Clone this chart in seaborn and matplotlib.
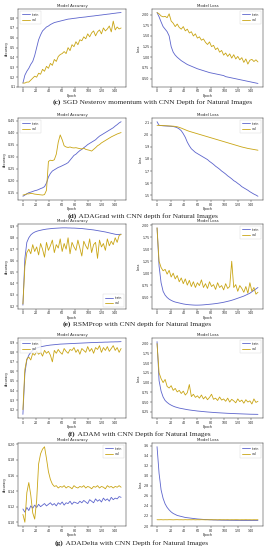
import pandas as pd
import matplotlib.pyplot as plt
import seaborn as sns

# epochs sampled every 3 epochs
epochs = list(range(0, 151, 3))

# (c) SGD Nesterov momentum
c_acc_train = [0.14, 0.22, 0.26, 0.29, 0.33, 0.36, 0.42, 0.50, 0.58, 0.63, 0.67, 0.69, 0.71, 0.72, 0.735, 0.745, 0.755,
               0.76, 0.765, 0.77, 0.775, 0.78, 0.785, 0.79, 0.792, 0.795, 0.798, 0.80, 0.803, 0.806, 0.808, 0.81, 0.812,
               0.815, 0.818, 0.82, 0.822, 0.825, 0.827, 0.83, 0.832, 0.835, 0.837, 0.84, 0.842, 0.845, 0.848, 0.85,
               0.853, 0.855, 0.857]
c_acc_val = [0.14, 0.14, 0.15, 0.15, 0.17, 0.19, 0.21, 0.20, 0.24, 0.23, 0.28, 0.26, 0.31, 0.29, 0.34, 0.32, 0.38, 0.36,
             0.41, 0.43, 0.44, 0.46, 0.44, 0.50, 0.47, 0.53, 0.51, 0.56, 0.53, 0.58, 0.57, 0.61, 0.59, 0.64, 0.61, 0.65,
             0.67, 0.62, 0.66, 0.68, 0.64, 0.70, 0.67, 0.69, 0.72, 0.66, 0.77, 0.68, 0.71, 0.69, 0.70]
c_loss_train = [2.05, 1.95, 1.83, 1.72, 1.66, 1.60, 1.50, 1.25, 1.12, 1.05, 1.00, 0.96, 0.92, 0.89, 0.86, 0.83, 0.81,
                0.79, 0.77, 0.75, 0.73, 0.715, 0.70, 0.685, 0.67, 0.655, 0.64, 0.63, 0.62, 0.61, 0.60, 0.59, 0.58,
                0.57, 0.545, 0.535, 0.525, 0.515, 0.505, 0.495, 0.485, 0.475, 0.465, 0.455, 0.445, 0.435, 0.425,
                0.415, 0.405, 0.395, 0.385]
c_loss_val = [2.05, 2.02, 1.97, 1.95, 1.96, 1.93, 2.02, 1.85, 1.80, 1.72, 1.78, 1.70, 1.66, 1.72, 1.62, 1.66, 1.57,
              1.60, 1.50, 1.55, 1.45, 1.48, 1.40, 1.43, 1.35, 1.30, 1.36, 1.25, 1.28, 1.18, 1.22, 1.12, 1.16, 1.05,
              1.10, 1.02, 1.08, 0.98, 1.06, 0.96, 1.02, 0.94, 0.99, 0.88, 0.96, 0.84, 0.93, 0.95, 0.90, 0.94, 0.89]

# (d) ADAGrad
d_acc_train = [0.135, 0.14, 0.145, 0.15, 0.152, 0.155, 0.158, 0.16, 0.163, 0.167, 0.17, 0.175, 0.19, 0.215, 0.23,
               0.24, 0.245, 0.25, 0.255, 0.258, 0.262, 0.266, 0.27, 0.275, 0.285, 0.295, 0.305, 0.31, 0.318, 0.325,
               0.33, 0.337, 0.343, 0.35, 0.355, 0.36, 0.365, 0.37, 0.378, 0.385, 0.39, 0.395, 0.40, 0.405, 0.41,
               0.415, 0.42, 0.427, 0.433, 0.44, 0.445]
d_acc_val = [0.14, 0.142, 0.145, 0.145, 0.147, 0.146, 0.144, 0.143, 0.142, 0.141, 0.14, 0.142, 0.16, 0.28, 0.285,
             0.283, 0.287, 0.31, 0.36, 0.39, 0.37, 0.345, 0.34, 0.338, 0.34, 0.337, 0.336, 0.337, 0.335, 0.333,
             0.332, 0.335, 0.33, 0.328, 0.326, 0.323, 0.33, 0.337, 0.345, 0.35, 0.357, 0.362, 0.367, 0.372, 0.377,
             0.382, 0.386, 0.39, 0.394, 0.397, 0.40]
d_loss_train = [2.11, 2.08, 2.078, 2.076, 2.075, 2.074, 2.073, 2.072, 2.07, 2.066, 2.06, 2.05, 2.035, 2.01, 1.98,
                1.94, 1.91, 1.885, 1.87, 1.855, 1.845, 1.835, 1.825, 1.815, 1.805, 1.795, 1.78, 1.768, 1.755, 1.74,
                1.728, 1.715, 1.70, 1.688, 1.675, 1.66, 1.648, 1.635, 1.62, 1.61, 1.597, 1.585, 1.57, 1.56, 1.55,
                1.54, 1.528, 1.518, 1.508, 1.50, 1.49]
d_loss_val = [2.08, 2.08, 2.079, 2.078, 2.077, 2.076, 2.075, 2.074, 2.073, 2.071, 2.068, 2.063, 2.057, 2.05, 2.043,
              2.036, 2.03, 2.025, 2.02, 2.015, 2.01, 2.005, 2.0, 1.995, 1.99, 1.985, 1.98, 1.975, 1.97, 1.965, 1.96,
              1.955, 1.95, 1.945, 1.94, 1.935, 1.93, 1.925, 1.92, 1.915, 1.91, 1.905, 1.90, 1.896, 1.892, 1.888,
              1.885, 1.882, 1.879, 1.876, 1.873]

# (e) RSMProp
e_acc_train = [0.21, 0.62, 0.76, 0.80, 0.825, 0.84, 0.85, 0.857, 0.862, 0.866, 0.87, 0.873, 0.876, 0.878, 0.88,
               0.882, 0.883, 0.884, 0.885, 0.886, 0.887, 0.887, 0.887, 0.886, 0.886, 0.885, 0.885, 0.884, 0.883,
               0.882, 0.881, 0.879, 0.877, 0.875, 0.873, 0.871, 0.869, 0.866, 0.863, 0.86, 0.857, 0.854, 0.851,
               0.847, 0.843, 0.839, 0.835, 0.831, 0.828, 0.829, 0.832]
e_acc_val = [0.22, 0.55, 0.67, 0.70, 0.66, 0.74, 0.68, 0.72, 0.65, 0.75, 0.70, 0.63, 0.76, 0.69, 0.73, 0.78, 0.67,
             0.74, 0.71, 0.79, 0.68, 0.75, 0.70, 0.80, 0.66, 0.76, 0.72, 0.69, 0.78, 0.71, 0.64, 0.77, 0.73, 0.70,
             0.79, 0.67, 0.74, 0.76, 0.62, 0.78, 0.72, 0.75, 0.69, 0.79, 0.73, 0.77, 0.74, 0.80, 0.76, 0.82, 0.83]
e_loss_train = [1.95, 1.15, 0.80, 0.62, 0.54, 0.49, 0.455, 0.43, 0.41, 0.395, 0.385, 0.375, 0.365, 0.355, 0.348,
                0.342, 0.338, 0.335, 0.332, 0.33, 0.33, 0.331, 0.333, 0.336, 0.34, 0.344, 0.348, 0.352, 0.357,
                0.362, 0.368, 0.375, 0.382, 0.39, 0.40, 0.41, 0.42, 0.432, 0.445, 0.46, 0.475, 0.49, 0.505, 0.52,
                0.54, 0.56, 0.58, 0.61, 0.64, 0.67, 0.70]
e_loss_val = [1.95, 1.25, 1.12, 1.05, 1.08, 0.98, 1.06, 0.92, 1.00, 0.88, 0.95, 0.82, 0.90, 0.78, 0.88, 0.75, 0.85,
              0.72, 0.82, 0.70, 0.80, 0.74, 0.86, 0.70, 0.78, 0.68, 0.82, 0.72, 0.76, 0.66, 0.80, 0.70, 0.74, 0.65,
              0.78, 0.68, 0.72, 1.25, 0.70, 0.76, 0.62, 0.74, 0.68, 0.60, 0.72, 0.58, 0.80, 0.62, 0.70, 0.56, 0.60]

# (f) ADAM
f_acc_train = [0.15, 0.58, 0.72, 0.77, 0.80, 0.82, 0.835, 0.845, 0.852, 0.858, 0.862, 0.866, 0.87, 0.873, 0.876,
               0.878, 0.88, 0.882, 0.884, 0.886, 0.887, 0.888, 0.889, 0.89, 0.891, 0.892, 0.893, 0.894, 0.895, 0.896,
               0.897, 0.898, 0.899, 0.90, 0.901, 0.902, 0.902, 0.903, 0.904, 0.905, 0.905, 0.906, 0.907, 0.907,
               0.908, 0.909, 0.909, 0.91, 0.91, 0.911, 0.912]
f_acc_val = [0.20, 0.62, 0.73, 0.75, 0.72, 0.79, 0.77, 0.81, 0.78, 0.80, 0.76, 0.82, 0.79, 0.81, 0.77, 0.70, 0.82,
             0.79, 0.83, 0.80, 0.78, 0.84, 0.81, 0.79, 0.83, 0.82, 0.85, 0.80, 0.83, 0.78, 0.84, 0.82, 0.80, 0.86,
             0.81, 0.84, 0.79, 0.85, 0.83, 0.87, 0.80, 0.85, 0.82, 0.86, 0.81, 0.84, 0.87, 0.82, 0.85, 0.80, 0.84]
f_loss_train = [2.05, 1.05, 0.78, 0.63, 0.54, 0.49, 0.45, 0.42, 0.395, 0.375, 0.36, 0.345, 0.335, 0.325, 0.315,
                0.305, 0.297, 0.29, 0.283, 0.277, 0.27, 0.265, 0.26, 0.255, 0.25, 0.245, 0.241, 0.237, 0.233, 0.229,
                0.226, 0.223, 0.22, 0.217, 0.214, 0.211, 0.209, 0.206, 0.204, 0.202, 0.20, 0.198, 0.196, 0.194,
                0.192, 0.19, 0.188, 0.187, 0.186, 0.185, 0.184]
f_loss_val = [2.00, 1.25, 1.10, 1.00, 1.08, 0.90, 0.86, 0.92, 0.80, 0.85, 0.76, 0.80, 0.72, 0.78, 0.68, 0.74, 0.95,
              0.64, 0.70, 0.62, 0.66, 0.60, 0.68, 0.58, 0.64, 0.56, 0.62, 0.70, 0.57, 0.60, 0.54, 0.63, 0.55, 0.58,
              0.52, 0.60, 0.50, 0.57, 0.53, 0.48, 0.58, 0.51, 0.55, 0.47, 0.56, 0.50, 0.53, 0.45, 0.58, 0.49, 0.52]

# (g) ADADelta
g_acc_train = [0.117, 0.113, 0.119, 0.115, 0.121, 0.118, 0.122, 0.119, 0.123, 0.120, 0.122, 0.124, 0.121, 0.123,
               0.125, 0.122, 0.124, 0.121, 0.125, 0.123, 0.126, 0.122, 0.125, 0.124, 0.127, 0.123, 0.126, 0.125,
               0.124, 0.127, 0.125, 0.128, 0.126, 0.124, 0.129, 0.127, 0.125, 0.130, 0.127, 0.129, 0.126, 0.131,
               0.128, 0.130, 0.127, 0.132, 0.129, 0.131, 0.130, 0.133, 0.132]
g_acc_val = [0.11, 0.10, 0.138, 0.151, 0.135, 0.112, 0.104, 0.128, 0.175, 0.188, 0.194, 0.197, 0.182, 0.165, 0.155,
             0.149, 0.146, 0.147, 0.144, 0.146, 0.145, 0.147, 0.144, 0.146, 0.145, 0.143, 0.147, 0.145, 0.144,
             0.146, 0.145, 0.147, 0.144, 0.146, 0.145, 0.143, 0.146, 0.145, 0.147, 0.144, 0.146, 0.145, 0.143,
             0.147, 0.145, 0.146, 0.144, 0.146, 0.145, 0.147, 0.145]
g_loss_train = [3.58, 3.05, 2.72, 2.55, 2.44, 2.37, 2.32, 2.28, 2.25, 2.23, 2.21, 2.20, 2.19, 2.18, 2.17, 2.165,
                2.16, 2.155, 2.15, 2.145, 2.14, 2.137, 2.134, 2.131, 2.128, 2.126, 2.124, 2.122, 2.12, 2.119, 2.118,
                2.117, 2.116, 2.115, 2.115, 2.114, 2.114, 2.113, 2.113, 2.112, 2.112, 2.112, 2.111, 2.111, 2.111,
                2.11, 2.11, 2.11, 2.11, 2.11, 2.11]
g_loss_val = [2.125, 2.124, 2.126, 2.123, 2.125, 2.124, 2.126, 2.125, 2.123, 2.125, 2.126, 2.124, 2.125, 2.123,
              2.126, 2.124, 2.125, 2.124, 2.126, 2.123, 2.125, 2.124, 2.126, 2.125, 2.123, 2.125, 2.124, 2.126,
              2.124, 2.125, 2.123, 2.126, 2.124, 2.125, 2.124, 2.126, 2.123, 2.125, 2.124, 2.126, 2.125, 2.123,
              2.125, 2.124, 2.126, 2.124, 2.125, 2.123, 2.125, 2.124, 2.125]

# y ticks for each panel
c_acc_ticks = [0.1, 0.2, 0.3, 0.4, 0.5, 0.6, 0.7, 0.8]
c_loss_ticks = [0.50, 0.75, 1.00, 1.25, 1.50, 1.75, 2.00]
d_acc_ticks = [0.15, 0.20, 0.25, 0.30, 0.35, 0.40, 0.45]
d_loss_ticks = [1.5, 1.6, 1.7, 1.8, 1.9, 2.0, 2.1]
e_acc_ticks = [0.2, 0.3, 0.4, 0.5, 0.6, 0.7, 0.8, 0.9]
e_loss_ticks = [0.50, 0.75, 1.00, 1.25, 1.50, 1.75, 2.00]
f_acc_ticks = [0.2, 0.3, 0.4, 0.5, 0.6, 0.7, 0.8, 0.9]
f_loss_ticks = [0.25, 0.50, 0.75, 1.00, 1.25, 1.50, 1.75, 2.00]
g_acc_ticks = [0.10, 0.12, 0.14, 0.16, 0.18, 0.20]
g_loss_ticks = [2.0, 2.2, 2.4, 2.6, 2.8, 3.0, 3.2, 3.4, 3.6]
x_ticks = [0, 20, 40, 60, 80, 100, 120, 140]

captions = [("(c)", "SGD Nesterov momentum with CNN Depth for Natural Images"),
            ("(d)", "ADAGrad with CNN depth for Natural Images"),
            ("(e)", "RSMProp with CNN depth for Natural Images"),
            ("(f)", "ADAM with CNN Depth for Natural Images"),
            ("(g)", "ADADelta with CNN Depth for Natural Images")]

# rows: (acc train, acc val, acc ticks, acc legend loc, loss train, loss val, loss ticks, loss legend loc)
rows = [
    (c_acc_train, c_acc_val, c_acc_ticks, "upper left", c_loss_train, c_loss_val, c_loss_ticks, "upper right"),
    (d_acc_train, d_acc_val, d_acc_ticks, "upper left", d_loss_train, d_loss_val, d_loss_ticks, "upper right"),
    (e_acc_train, e_acc_val, e_acc_ticks, "lower right", e_loss_train, e_loss_val, e_loss_ticks, "upper right"),
    (f_acc_train, f_acc_val, f_acc_ticks, "upper left", f_loss_train, f_loss_val, f_loss_ticks, "upper right"),
    (g_acc_train, g_acc_val, g_acc_ticks, "upper right", g_loss_train, g_loss_val, g_loss_ticks, "upper right"),
]

# pixel layout (top, bottom of axes; caption y; caption start x)
row_box = [(9, 87, 102, 53), (118, 200, 216, 68), (224, 309, 324, 63), (338, 418, 434, 68), (443, 526, 543, 55)]

sns.set_style("ticks")
plt.rcParams["font.family"] = ["DejaVu Sans"]
palette = {"train": "#5c64cc", "val": "#c9a514"}

W, H = 271, 550
fig = plt.figure(figsize=(W / 100, H / 100), dpi=100)


def draw(ax, train, val, ticks, loc, title, ylabel):
    df = pd.DataFrame({"epoch": epochs * 2,
                       "value": train + val,
                       "set": ["train"] * len(epochs) + ["val"] * len(epochs)})
    sns.lineplot(data=df, x="epoch", y="value", hue="set", palette=palette, linewidth=0.6, ax=ax)
    ax.set_xticks(x_ticks)
    ax.set_yticks(ticks)
    ax.set_xlim(-7.5, 157.5)
    ax.set_title(title, fontsize=2.8, pad=1.5)
    ax.set_xlabel("Epoch", fontsize=2.4, labelpad=0.5)
    ax.set_ylabel(ylabel, fontsize=2.4, labelpad=1)
    ax.tick_params(labelsize=2.3, length=1.2, width=0.3, pad=0.6)
    for s in ax.spines.values():
        s.set_linewidth(0.35)
    leg = ax.legend(loc=loc, fontsize=2.3, frameon=True, handlelength=2.5, borderpad=0.6)
    leg.get_frame().set_linewidth(0.3)


for (at, av, aticks, aloc, lt, lv, lticks, lloc), (top, bot, cy, cx), (lab, cap) in zip(rows, row_box, captions):
    ax1 = fig.add_axes([18 / W, 1 - bot / H, 108 / W, (bot - top) / H])
    draw(ax1, at, av, aticks, aloc, "Model Accuracy", "Accuracy")
    ax2 = fig.add_axes([152 / W, 1 - bot / H, 111 / W, (bot - top) / H])
    draw(ax2, lt, lv, lticks, lloc, "Model Loss", "Loss")
    t = fig.text(cx / W, 1 - cy / H, lab, fontsize=5.3, fontweight="bold",
                 family="Liberation Serif", va="center", ha="left")
    fig.add_artist(plt.Annotation(" " + cap, xy=(1, 0), xycoords=t, va="bottom", ha="left",
                                  fontsize=5.3, family="Liberation Serif"))

fig.savefig("out.png", dpi=100)
